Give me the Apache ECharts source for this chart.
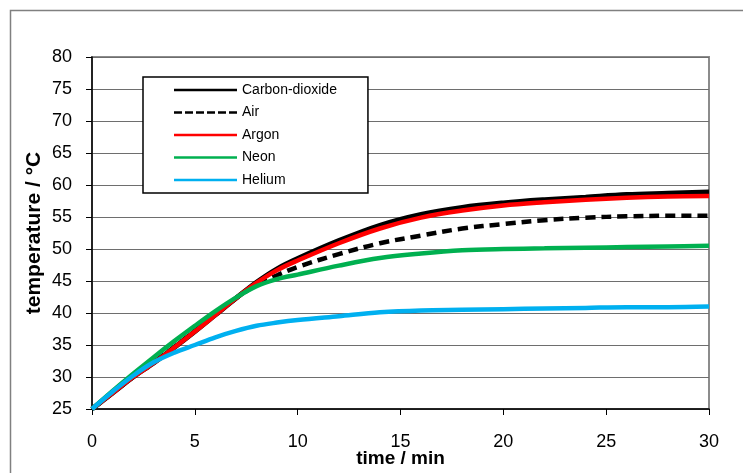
<!DOCTYPE html>
<html>
<head>
<meta charset="utf-8">
<script src="https://cdn.jsdelivr.net/npm/echarts@6/dist/echarts.min.js"></script>
<style>
  html, body { margin: 0; padding: 0; background: #fff; }
  #chart { width: 743px; height: 473px; }
</style>
</head>
<body>
<div id="chart"></div>
<script>
// time in minutes
const times = [0, 1, 2, 3, 4, 5, 6, 7, 8, 9, 10, 12, 14, 16, 18, 20, 22, 24, 26, 28, 30]

const carbonDioxide = [25, 27.5, 30.0, 32.2, 34.6, 37.1, 39.7, 42.3, 44.8, 46.9, 48.5, 51.3, 53.7, 55.4, 56.5, 57.2, 57.7, 58.1, 58.5, 58.7, 58.9]
const air = [25, 27.5, 30.0, 32.3, 34.7, 37.2, 39.8, 42.3, 44.4, 45.9, 47.2, 49.2, 50.9, 52.1, 53.2, 53.9, 54.5, 54.9, 55.1, 55.2, 55.2]
const argon = [25, 27.5, 30.0, 32.2, 34.6, 37.1, 39.7, 42.3, 44.7, 46.7, 48.2, 50.9, 53.2, 54.9, 56.0, 56.8, 57.3, 57.7, 58.0, 58.2, 58.3]
const neon = [25, 27.8, 30.5, 33.1, 35.6, 38.0, 40.3, 42.4, 44.2, 45.3, 46.0, 47.4, 48.6, 49.3, 49.8, 50.0, 50.1, 50.2, 50.3, 50.4, 50.5]
const helium = [25, 27.7, 30.2, 32.3, 33.8, 35.0, 36.2, 37.2, 38.0, 38.5, 38.9, 39.5, 40.1, 40.4, 40.5, 40.6, 40.7, 40.8, 40.9, 40.9, 41.0]

const seriesNames = ['Carbon-dioxide', 'Air', 'Argon', 'Neon', 'Helium']
const seriesColors = ['#000000', '#000000', '#ff0000', '#00b050', '#00b0f0']
const seriesData = [carbonDioxide, air, argon, neon, helium]

// legend icons: a plain bar, and a dashed one for Air
const solidIcon = 'path://M0,0H63V2.5H0Z'
const dashedIcon = 'path://M0,0H8V2.5H0Z M11,0H19V2.5H11Z M22,0H30V2.5H22Z M33,0H41V2.5H33Z M44,0H52V2.5H44Z M55,0H63V2.5H55Z'

const pair = (vals) => times.map((t, i) => [t, vals[i]])

const chart = echarts.init(document.getElementById('chart'))

const series = seriesNames.map((name, i) => ({
  name,
  type: 'line',
  data: pair(seriesData[i]),
  smooth: 0.35,
  symbol: 'none',
  z: 2 + i,
  lineStyle: {
    color: seriesColors[i],
    width: i === 0 ? 5 : 4.5,
    type: name === 'Air' ? [10, 6] : 'solid',
  },
  itemStyle: { color: seriesColors[i] },
}))

chart.setOption({
  animation: false,
  backgroundColor: '#fff',
  textStyle: { fontFamily: 'Liberation Sans, Arial, sans-serif' },
  graphic: [
    {
      type: 'rect',
      shape: { x: 10.5, y: 10.5, width: 800, height: 500 },
      style: { fill: 'none', stroke: '#808080', lineWidth: 1.5 },
      silent: true,
    },
  ],
  grid: {
    left: 92,
    right: 34,
    top: 57,
    bottom: 64,
    outerBoundsMode: 'none',
    show: true,
    borderColor: '#8c8c8c',
    borderWidth: 2,
  },
  legend: {
    orient: 'vertical',
    left: 143,
    top: 77,
    data: seriesNames.map((name) => ({
      name,
      icon: name === 'Air' ? dashedIcon : solidIcon,
    })),
    itemWidth: 63,
    itemHeight: 14,
    itemGap: 8.5,
    padding: [6, 31, 6, 31],
    backgroundColor: '#fff',
    borderColor: '#000',
    borderWidth: 1.5,
    textStyle: { color: '#000', fontSize: 14, fontFamily: 'Liberation Sans, Arial, sans-serif' },
    itemStyle: { borderWidth: 0 },
    z: 20,
  },
  xAxis: {
    type: 'value',
    min: 0,
    max: 30,
    interval: 5,
    name: 'time / min',
    nameLocation: 'middle',
    nameGap: 40,
    nameMoveOverlap: false,
    nameTextStyle: { color: '#000', fontSize: 19, fontWeight: 'bold' },
    axisLine: { lineStyle: { color: '#000', width: 1.5 } },
    axisTick: { show: true, inside: false, length: 6, lineStyle: { color: '#000' } },
    axisLabel: { color: '#000', fontSize: 18, margin: 24 },
    splitLine: { show: false },
  },
  yAxis: {
    type: 'value',
    min: 25,
    max: 80,
    interval: 5,
    name: 'temperature / °C',
    nameLocation: 'middle',
    nameGap: 47,
    nameMoveOverlap: false,
    nameTextStyle: { color: '#000', fontSize: 21, fontWeight: 'bold' },
    axisLine: { show: true, lineStyle: { color: '#000', width: 1.5 } },
    axisTick: { show: true, inside: false, length: 6, lineStyle: { color: '#000' } },
    axisLabel: { color: '#000', fontSize: 18, margin: 20 },
    splitLine: { show: true, lineStyle: { color: '#6e6e6e', width: 1.2 } },
  },
  series,
})
</script>
</body>
</html>
